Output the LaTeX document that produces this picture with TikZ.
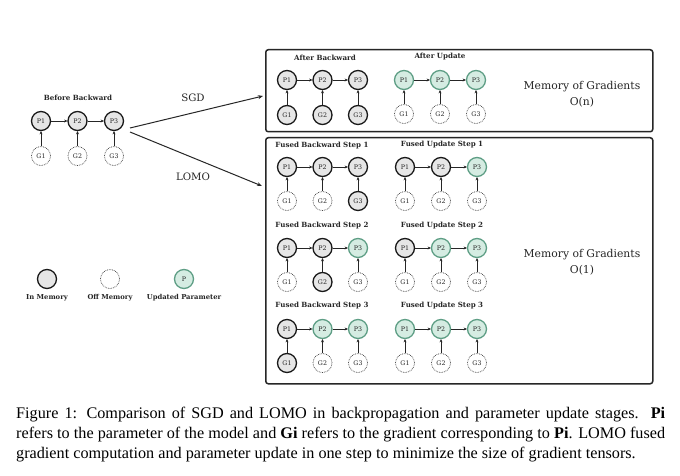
\documentclass[tikz,border=0pt]{standalone}
\usepackage{fontspec}
\setmainfont{Liberation Serif}
\newfontfamily\dgfont{DejaVu Serif}
\usetikzlibrary{arrows.meta}
\definecolor{memgray}{HTML}{E6E6E6}
\definecolor{updfill}{HTML}{D5ECE2}
\definecolor{updline}{HTML}{5E9E85}
\tikzset{
  nd/.style={circle,minimum size=19pt,inner sep=0pt,font=\dgfont\fontsize{6.3}{7}\selectfont,text=black!85},
  inm/.style={nd,draw=black!90,line width=1.3pt,fill=memgray},
  offm/.style={nd,draw=black!80,densely dotted,line width=0.7pt,fill=white},
  upd/.style={nd,draw=updline,line width=1.3pt,fill=updfill},
  conn/.style={-{Stealth[length=3.2pt,width=3pt]},line width=0.8pt,black!85},
  ttl/.style={font=\dgfont\bfseries\fontsize{7.1}{8}\selectfont,text=black!85},
  lbl/.style={font=\dgfont\bfseries\fontsize{6.8}{8}\selectfont,text=black!85},
  memtxt/.style={font=\dgfont\fontsize{10.8}{16}\selectfont,align=center,text=black!85},
  bigbox/.style={draw=black!85,line width=1.5pt,rounded corners=2.5pt},
  branch/.style={-{Stealth[length=5pt,width=4pt]},line width=1pt,black!85},
  brlbl/.style={font=\dgfont\fontsize{10.2}{11}\selectfont,text=black!85}
}
\newcommand{\grp}[7]{%
  \foreach \s [count=\k] in {#6} {
    \node[\s] (#1P\k) at ({#2+(\k-1)*#5},#3) {P\k};
  }
  \foreach \s [count=\k] in {#7} {
    \node[\s] (#1G\k) at ({#2+(\k-1)*#5},#4) {G\k};
  }
  \draw[conn] (#1P1) -- (#1P2);
  \draw[conn] (#1P2) -- (#1P3);
  \foreach \k in {1,2,3} { \draw[conn] (#1G\k) -- (#1P\k); }
}
\begin{document}
\begin{tikzpicture}[x=1pt,y=-1pt]
\useasboundingbox (0,0) rectangle (680,476);
\fill[white] (0,0) rectangle (680,476);

% before backward
\node[ttl] (tbb) at (78,98) {Before Backward};
\grp{bb}{41}{121}{156}{36.5}{inm,inm,inm}{offm,offm,offm}

% boxes
\node[bigbox,minimum width=387pt,minimum height=82pt,anchor=north west] (sgdbox) at (265,49) {};
\node[bigbox,minimum width=387pt,minimum height=246pt,anchor=north west] (lomobox) at (265,137) {};

% branch arrows
\coordinate (bs1) at (130,128);
\coordinate (bs2) at (130,132);
\coordinate (be1) at (263,96);
\coordinate (be2) at (262,186);
\draw[branch] (bs1) -- (be1);
\draw[branch] (bs2) -- (be2);
\node[brlbl] (lsgd) at (193,98) {SGD};
\node[brlbl] (llomo) at (193,177) {LOMO};

% SGD box content
\node[ttl] (tab) at (325,58) {After Backward};
\grp{ab}{287}{80}{115}{35.5}{inm,inm,inm}{inm,inm,inm}
\node[ttl] (tau) at (440,57) {After Update};
\grp{au}{404}{80}{114}{36}{upd,upd,upd}{offm,offm,offm}
\node[memtxt] (mn) at (582,94) {Memory of Gradients\\O(n)};

% LOMO box content
\node[ttl] (tb1) at (322,146) {Fused Backward Step 1};
\grp{ba}{287}{167}{201}{35.5}{inm,inm,inm}{offm,offm,inm}
\node[ttl] (tu1) at (442,145) {Fused Update Step 1};
\grp{ua}{405}{167}{201}{36}{inm,inm,upd}{offm,offm,offm}

\node[ttl] (tb2) at (322,226) {Fused Backward Step 2};
\grp{bc}{287}{248}{282}{35.5}{inm,inm,upd}{offm,inm,offm}
\node[ttl] (tu2) at (442,226) {Fused Update Step 2};
\grp{uc}{405}{248}{282}{36}{inm,upd,upd}{offm,offm,offm}

\node[ttl] (tb3) at (322,306) {Fused Backward Step 3};
\grp{bd}{287}{329}{363}{35.5}{inm,upd,upd}{inm,offm,offm}
\node[ttl] (tu3) at (442,306) {Fused Update Step 3};
\grp{ud}{405}{329}{363}{36}{upd,upd,upd}{offm,offm,offm}

\node[memtxt] (mo) at (582,262) {Memory of Gradients\\O(1)};

% legend
\node[inm] (lg1) at (47,279) {};
\node[offm] (lg2) at (110,279) {};
\node[upd] (lg3) at (184,279) {P};
\node[lbl] (lt1) at (47,298) {In Memory};
\node[lbl] (lt2) at (110,298) {Off Memory};
\node[lbl] (lt3) at (184,298) {Updated Parameter};

% caption
\node[anchor=base west,text width=649pt,align=justify,inner sep=0pt,
  font=\fontsize{16.2}{20}\selectfont] (cap) at (16,418)
{Figure 1: Comparison of SGD and LOMO in backpropagation and parameter update stages.\ \ \textbf{Pi}\linebreak refers to the parameter of the model and \textbf{Gi} refers to the gradient corresponding to \textbf{Pi}. LOMO fused\linebreak gradient computation and parameter update in one step to minimize the size of gradient tensors.};
\end{tikzpicture}
\end{document}
